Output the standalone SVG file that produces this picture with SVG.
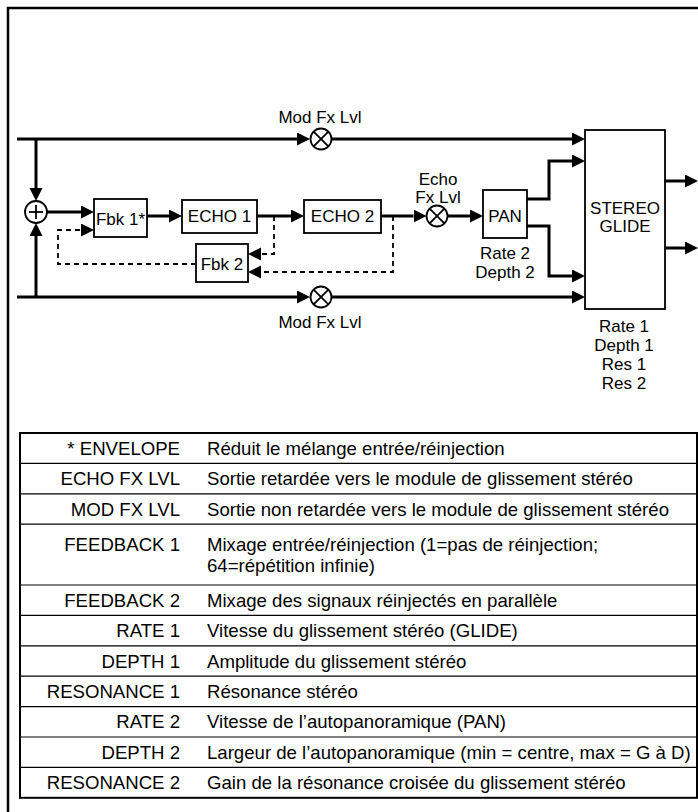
<svg xmlns="http://www.w3.org/2000/svg" width="698" height="812" viewBox="0 0 698 812">
<style>
text{font-family:"Liberation Sans",Arial,sans-serif;fill:#000}
.lbl{font-size:17px;text-anchor:middle}
.tk{font-size:18.6px;text-anchor:end}
.td{font-size:18.6px;text-anchor:start}
.s{fill:none;stroke:#000;stroke-width:3}
.d{fill:none;stroke:#000;stroke-width:1.8;stroke-dasharray:5 4}
.box{fill:#fff;stroke:#000;stroke-width:1.8}
.op{fill:#fff;stroke:#000;stroke-width:1.8}
.opl{stroke:#000;stroke-width:1.8}
.row{stroke:#000;stroke-width:1.2}
</style>
<defs>
<marker id="arr" markerUnits="userSpaceOnUse" markerWidth="14" markerHeight="14" refX="0" refY="6.5" orient="auto">
<path d="M0,0 L13,6.5 L0,13 z" fill="#000"/>
</marker>
</defs>
<rect x="0" y="0" width="698" height="812" fill="#fff"/>
<path id="frame" d="M8,812 V8 H698" fill="none" stroke="#000" stroke-width="2.5"/>

<g id="connectors">
<path class="s" d="M17,139 H297" marker-end="url(#arr)"/>
<path class="s" d="M331.5,139 H572" marker-end="url(#arr)"/>
<path class="s" d="M17,297 H297" marker-end="url(#arr)"/>
<path class="s" d="M331.5,297 H572" marker-end="url(#arr)"/>
<path class="s" d="M36,139 V188" marker-end="url(#arr)"/>
<path class="s" d="M36,297 V236" marker-end="url(#arr)"/>
<path class="s" d="M47,212 H81" marker-end="url(#arr)"/>
<path class="s" d="M147,216 H169" marker-end="url(#arr)"/>
<path class="s" d="M257,216 H291" marker-end="url(#arr)"/>
<path class="s" d="M381,216 H413.5" marker-end="url(#arr)"/>
<path class="s" d="M447.5,216 H470" marker-end="url(#arr)"/>
<path class="s" d="M527,199 H549 V161 H572" marker-end="url(#arr)"/>
<path class="s" d="M527,226 H549 V276 H572" marker-end="url(#arr)"/>
<path class="s" d="M665,181 H685" marker-end="url(#arr)"/>
<path class="s" d="M665,248 H685" marker-end="url(#arr)"/>
<path class="d" d="M196,264 H58 V230 H81" marker-end="url(#arr)"/>
<path class="d" d="M274,216 V254 H261" marker-end="url(#arr)"/>
<path class="d" d="M393,216 V272 H261" marker-end="url(#arr)"/>
</g>

<g id="sum">
<circle class="op" cx="36" cy="212" r="11"/>
<line class="opl" x1="29" y1="212" x2="43" y2="212"/>
<line class="opl" x1="36" y1="205" x2="36" y2="219"/>
</g>

<g id="modfx-top">
<circle class="op" cx="321" cy="139" r="10.5"/>
<line class="opl" x1="313.6" y1="131.6" x2="328.4" y2="146.4"/>
<line class="opl" x1="313.6" y1="146.4" x2="328.4" y2="131.6"/>
<text class="lbl" x="320" y="123">Mod Fx Lvl</text>
</g>

<g id="modfx-bottom">
<circle class="op" cx="321" cy="297" r="10.5"/>
<line class="opl" x1="313.6" y1="289.6" x2="328.4" y2="304.4"/>
<line class="opl" x1="313.6" y1="304.4" x2="328.4" y2="289.6"/>
<text class="lbl" x="320" y="328">Mod Fx Lvl</text>
</g>

<g id="echofx">
<circle class="op" cx="437" cy="216" r="10.5"/>
<line class="opl" x1="429.6" y1="208.6" x2="444.4" y2="223.4"/>
<line class="opl" x1="429.6" y1="223.4" x2="444.4" y2="208.6"/>
<text class="lbl" x="438" y="185">Echo</text>
<text class="lbl" x="438" y="203">Fx Lvl</text>
</g>

<g id="fbk1">
<rect class="box" x="94" y="199" width="53" height="38"/>
<text class="lbl" x="120.5" y="225">Fbk 1*</text>
</g>

<g id="echo1">
<rect class="box" x="182" y="200" width="75" height="33"/>
<text class="lbl" x="219.5" y="222">ECHO 1</text>
</g>

<g id="echo2">
<rect class="box" x="304" y="200" width="77" height="33"/>
<text class="lbl" x="342.5" y="222">ECHO 2</text>
</g>

<g id="fbk2">
<rect class="box" x="196" y="244" width="52" height="38"/>
<text class="lbl" x="222" y="270">Fbk 2</text>
</g>

<g id="pan">
<rect class="box" x="483" y="190" width="44" height="48"/>
<text class="lbl" x="505" y="222">PAN</text>
<text class="lbl" x="505" y="259">Rate 2</text>
<text class="lbl" x="505" y="278">Depth 2</text>
</g>

<g id="stereoglide">
<rect class="box" x="585" y="130" width="80" height="179"/>
<text class="lbl" x="625" y="214">STEREO</text>
<text class="lbl" x="625" y="232">GLIDE</text>
<text class="lbl" x="624" y="332">Rate 1</text>
<text class="lbl" x="624" y="351">Depth 1</text>
<text class="lbl" x="624" y="370">Res 1</text>
<text class="lbl" x="624" y="389">Res 2</text>
</g>

<g id="table">
<rect x="20" y="433" width="677" height="364.8" fill="none" stroke="#000" stroke-width="2"/>
<line class="row" x1="20" y1="463.4" x2="697" y2="463.4"/>
<line class="row" x1="20" y1="493.8" x2="697" y2="493.8"/>
<line class="row" x1="20" y1="524.2" x2="697" y2="524.2"/>
<line class="row" x1="20" y1="585" x2="697" y2="585"/>
<line class="row" x1="20" y1="615.4" x2="697" y2="615.4"/>
<line class="row" x1="20" y1="645.8" x2="697" y2="645.8"/>
<line class="row" x1="20" y1="676.2" x2="697" y2="676.2"/>
<line class="row" x1="20" y1="706.6" x2="697" y2="706.6"/>
<line class="row" x1="20" y1="737" x2="697" y2="737"/>
<line class="row" x1="20" y1="767.4" x2="697" y2="767.4"/>
<text class="tk" x="180" y="454.8">* ENVELOPE</text>
<text class="td" x="207" y="454.8">Réduit le mélange entrée/réinjection</text>
<text class="tk" x="180" y="485.2">ECHO FX LVL</text>
<text class="td" x="207" y="485.2">Sortie retardée vers le module de glissement stéréo</text>
<text class="tk" x="180" y="515.6">MOD FX LVL</text>
<text class="td" x="207" y="515.6">Sortie non retardée vers le module de glissement stéréo</text>
<text class="tk" x="180" y="550.8">FEEDBACK 1</text>
<text class="td" x="207" y="550.8">Mixage entrée/réinjection (1=pas de réinjection;</text>
<text class="td" x="207" y="571.5">64=répétition infinie)</text>
<text class="tk" x="180" y="606.8">FEEDBACK 2</text>
<text class="td" x="207" y="606.8">Mixage des signaux réinjectés en parallèle</text>
<text class="tk" x="180" y="637.2">RATE 1</text>
<text class="td" x="207" y="637.2">Vitesse du glissement stéréo (GLIDE)</text>
<text class="tk" x="180" y="667.6">DEPTH 1</text>
<text class="td" x="207" y="667.6">Amplitude du glissement stéréo</text>
<text class="tk" x="180" y="698">RESONANCE 1</text>
<text class="td" x="207" y="698">Résonance stéréo</text>
<text class="tk" x="180" y="728.4">RATE 2</text>
<text class="td" x="207" y="728.4">Vitesse de l’autopanoramique (PAN)</text>
<text class="tk" x="180" y="758.8">DEPTH 2</text>
<text class="td" x="207" y="758.8">Largeur de l’autopanoramique (min = centre, max = G à D)</text>
<text class="tk" x="180" y="789.2">RESONANCE 2</text>
<text class="td" x="207" y="789.2">Gain de la résonance croisée du glissement stéréo</text>
</g>
</svg>
